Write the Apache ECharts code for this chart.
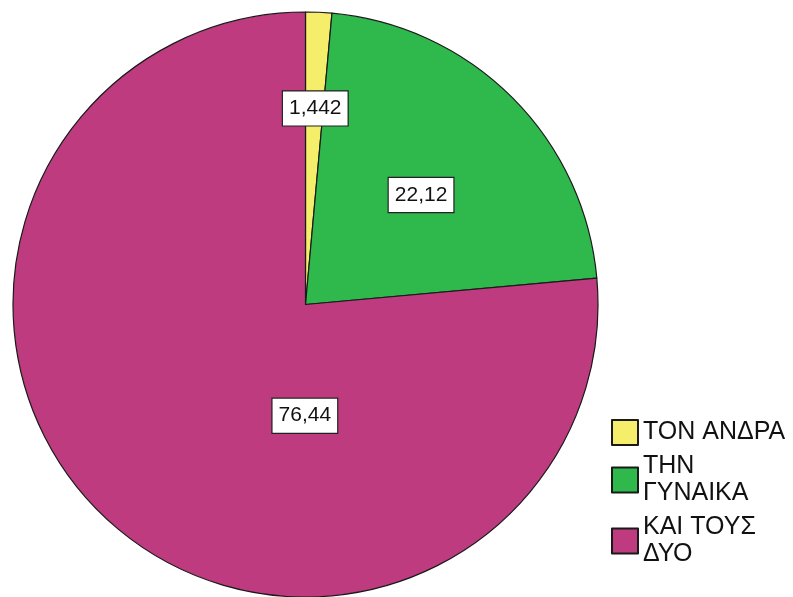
<!DOCTYPE html>
<html>
<head>
<meta charset="utf-8">
<script src="https://cdn.jsdelivr.net/npm/echarts@6/dist/echarts.min.js"></script>
<style>
  html, body { margin: 0; padding: 0; background: #fff; }
  #chart { width: 793px; height: 597px; }
</style>
</head>
<body>
<div id="chart"></div>
<script>
// Answer categories and their percentages
const categories = ['ΤΟΝ ΑΝΔΡΑ', 'ΤΗΝ\nΓΥΝΑΙΚΑ', 'ΚΑΙ ΤΟΥΣ\nΔΥΟ'];
const values = [1.442, 22.12, 76.44];
const colors = ['#F5EE6A', '#2FB84C', '#BE3B80'];

// Nudges that move each value box from the slice's inner mid-point
const labelShift = [[3, -47], [10, -4], [100, 1]];

const chart = echarts.init(document.getElementById('chart'));

chart.setOption({
  animation: false,
  backgroundColor: '#ffffff',
  legend: {
    orient: 'vertical',
    left: 606,
    top: 414,
    itemWidth: 26,
    itemHeight: 25,
    itemGap: 7,
    icon: 'rect',
    selectedMode: false,
    textStyle: {
      fontFamily: 'Liberation Sans, Arial, sans-serif',
      fontSize: 25,
      lineHeight: 27,
      color: '#111'
    },
    data: categories
  },
  series: [{
    type: 'pie',
    center: [305.5, 304.5],
    radius: [0, 292.5],
    startAngle: 90,
    clockwise: true,
    avoidLabelOverlap: false,
    emphasis: { disabled: true },
    itemStyle: { borderColor: '#1a1a1a', borderWidth: 1.2 },
    label: {
      show: true,
      position: 'inside',
      formatter: p => String(p.value).replace('.', ','),
      fontFamily: 'Liberation Sans, Arial, sans-serif',
      fontSize: 21,
      color: '#111',
      backgroundColor: '#ffffff',
      borderColor: '#222',
      borderWidth: 1.2,
      padding: [7, 6, 6, 6]
    },
    labelLine: { show: false },
    labelLayout: p => ({ dx: labelShift[p.dataIndex][0], dy: labelShift[p.dataIndex][1] }),
    data: categories.map((name, i) => ({
      name,
      value: values[i],
      itemStyle: { color: colors[i] }
    }))
  }]
});
</script>
</body>
</html>
